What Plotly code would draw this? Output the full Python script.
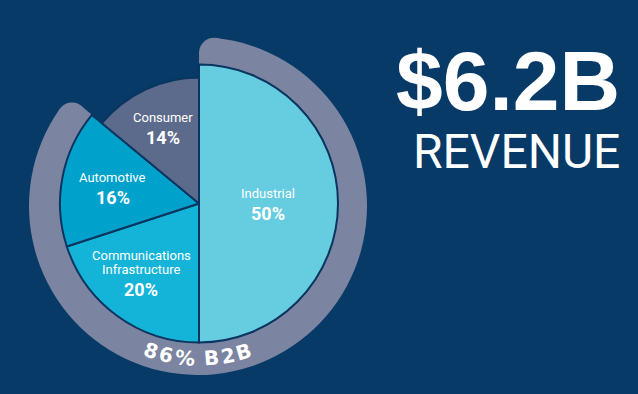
import math
import plotly.graph_objects as go

# ---------------- data ----------------
categories = ["Industrial", "Communications\nInfrastructure", "Automotive", "Consumer"]
shares = [50, 20, 16, 14]
is_b2b = [True, True, True, False]
ring_label = "86% B2B"
headline = "$6.2B"
subline = "REVENUE"

# ---------------- style ----------------
W, H = 638, 394
CX, CY = 199, 203.5        # pie centre in px (from top-left)
RCX, RCY = 198, 206        # ring centre in px
RMAX = 172                 # radial range -> 1 unit = 1 px
BG = "#073a66"
OUTLINE = "#0a3560"
RING = "#7b84a0"
slice_colors = ["#66cce0", "#14b4d8", "#00a2cc", "#5c6b8c"]
slice_radius = [139, 139, 139, 126]
R_PIE = 139
RING_IN, RING_OUT = 125, 169
CAP = 15
label_r = [69, 90, 88, 84]
label_dtheta = [0, 4, 0, 0]

# angles (clockwise from 12 o'clock)
starts, mids, widths = [], [], []
acc = 0.0
for s in shares:
    w = s * 3.6
    starts.append(acc)
    mids.append(acc + w / 2)
    widths.append(w)
    acc += w


def to_px(r, theta, cx=CX, cy=CY):
    t = math.radians(theta)
    return cx + r * math.sin(t), cy - r * math.cos(t)


def ring_angle(theta):
    # angle, seen from the ring centre, of the pie's outer edge at pie angle theta
    x, y = to_px(R_PIE, theta)
    return math.degrees(math.atan2(x - RCX, RCY - y)) % 360


b2b_total = sum(s for s, b in zip(shares, is_b2b) if b)
a0 = ring_angle(0.0)
a1 = ring_angle(b2b_total * 3.6)
if a1 < a0:
    a1 += 360
cap_r = RING_OUT - CAP
delta = math.degrees(CAP / cap_r)

fig = go.Figure()

# ring (polar): inner band, full span
fig.add_trace(go.Barpolar(
    r=[cap_r - RING_IN], base=[RING_IN], theta=[(a0 + a1) / 2], width=[a1 - a0],
    marker=dict(color=RING, line=dict(width=0)), hoverinfo="skip", showlegend=False, subplot="polar"))
# ring: full band shortened for rounded outer corners
fig.add_trace(go.Barpolar(
    r=[RING_OUT - RING_IN], base=[RING_IN], theta=[(a0 + a1) / 2], width=[a1 - a0 - 2 * delta],
    marker=dict(color=RING, line=dict(width=0)), hoverinfo="skip", showlegend=False, subplot="polar"))
fig.add_trace(go.Scatterpolar(
    r=[cap_r, cap_r], theta=[a0 + delta, a1 - delta], mode="markers",
    marker=dict(size=2 * CAP, color=RING, line=dict(width=0)),
    hoverinfo="skip", showlegend=False, subplot="polar"))

# pie slices (polar2, drawn above the ring)
fig.add_trace(go.Barpolar(
    r=slice_radius, theta=mids, width=widths,
    marker=dict(color=slice_colors, line=dict(color=OUTLINE, width=2)),
    hoverinfo="skip", showlegend=False, subplot="polar2"))


def px_paper(x, y):
    return x / W, 1 - y / H


annotations = []
LABEL_FONT = "Roboto, 'Open Sans', sans-serif"
for i, (name, s) in enumerate(zip(categories, shares)):
    x, y = to_px(label_r[i], mids[i] + label_dtheta[i])
    lines = name.split("\n")
    n = len(lines)
    block = (n - 1) * 14 + 20
    top = y - block / 2
    for j, ln in enumerate(lines):
        px, py = px_paper(x, top + j * 14)
        annotations.append(dict(x=px, y=py, xref="paper", yref="paper", text=ln,
                                showarrow=False, xanchor="center", yanchor="middle",
                                font=dict(family=LABEL_FONT, size=13, color="white")))
    px, py = px_paper(x, top + (n - 1) * 14 + 20)
    annotations.append(dict(x=px, y=py, xref="paper", yref="paper", text=f"<b>{s}%</b>",
                            showarrow=False, xanchor="center", yanchor="middle",
                            font=dict(family=LABEL_FONT, size=18, color="white")))

# curved ring label along the bottom of the ring
adv = {"8": 0.696, "6": 0.696, "%": 1.002, " ": 0.348, "B": 0.762, "2": 0.696}
FS = 20
ext = 1.1
widths_px = [adv.get(c, 0.7) * FS * ext for c in ring_label]
total = sum(widths_px)
r_text = 155
pos = 0.0
for c, w in zip(ring_label, widths_px):
    centre = pos + w / 2
    pos += w
    if c == " ":
        continue
    th = 180.5 + math.degrees((total / 2 - centre) / r_text)
    x, y = to_px(r_text, th)
    px, py = px_paper(x, y)
    annotations.append(dict(x=px, y=py, xref="paper", yref="paper", text=f"<b>{c}</b>",
                            showarrow=False, xanchor="center", yanchor="middle",
                            textangle=th - 180,
                            font=dict(family="'DejaVu Sans', sans-serif", size=FS, color="white")))

# headline
annotations.append(dict(x=508 / W, y=1 - 81 / H, xref="paper", yref="paper", text=f"<b>{headline}</b>",
                        showarrow=False, xanchor="center", yanchor="middle",
                        font=dict(family="'Liberation Sans', Arial, sans-serif", size=84, color="white")))
annotations.append(dict(x=516 / W, y=1 - 151 / H, xref="paper", yref="paper", text=subline,
                        showarrow=False, xanchor="center", yanchor="middle",
                        font=dict(family="Roboto, sans-serif", size=48, color="white", weight=400)))


def polar_layout(cx, cy):
    return dict(
        domain=dict(x=[(cx - RMAX) / W, (cx + RMAX) / W], y=[(H - cy - RMAX) / H, (H - cy + RMAX) / H]),
        bgcolor="rgba(0,0,0,0)",
        barmode="overlay",
        hole=0,
        radialaxis=dict(range=[0, RMAX], visible=False, showgrid=False),
        angularaxis=dict(visible=False, rotation=90, direction="clockwise", showgrid=False),
    )


fig.update_layout(
    width=W, height=H,
    margin=dict(l=0, r=0, t=0, b=0),
    paper_bgcolor=BG, plot_bgcolor=BG,
    showlegend=False,
    polar=polar_layout(RCX, RCY),
    polar2=polar_layout(CX, CY),
    annotations=annotations,
)

fig.write_html("out.html", config={"displayModeBar": False},
               post_script="document.body.style.margin='0';document.body.style.background='%s';" % BG)
